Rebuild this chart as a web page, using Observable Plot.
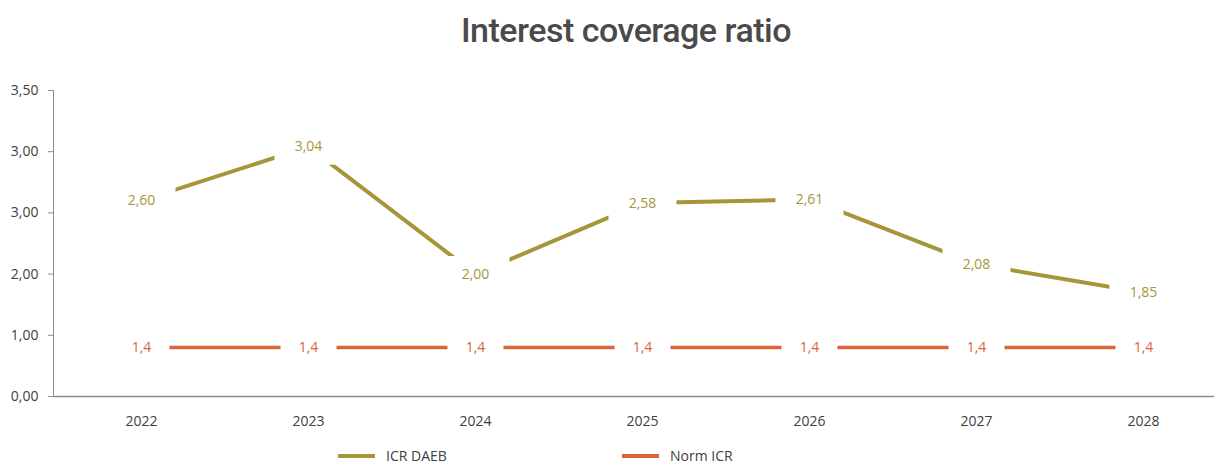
<!DOCTYPE html>
<html>
<head>
<meta charset="utf-8">
<script src="https://cdn.jsdelivr.net/npm/d3@7"></script>
<script src="https://cdn.jsdelivr.net/npm/@observablehq/plot@0.6"></script>
<style>
  html, body { margin: 0; padding: 0; background: #fff; }
  #page { position: relative; width: 1214px; height: 465px; overflow: hidden; font-family: "Open Sans", sans-serif; }
  #title { position: absolute; top: 7px; left: 38px; width: 1176px; text-align: center; font-family: Roboto, sans-serif; font-weight: 500; font-size: 34px; line-height: 46px; color: #4a4a4a; letter-spacing: -0.5px; }
  #chart { position: absolute; top: 70px; left: 0; }
  .legend-item { position: absolute; top: 446px; height: 19px; line-height: 19px; display: flex; align-items: center; font-size: 14px; color: #404040; }
  .swatch { width: 37px; height: 4px; margin-right: 11px; }
</style>
</head>
<body>
<div id="page">
  <div id="title">Interest coverage ratio</div>
  <div id="chart"></div>
  <div id="legend"></div>
</div>
<script>
const years = ["2022", "2023", "2024", "2025", "2026", "2027", "2028"];
const icrDaeb = [2.60, 3.04, 2.00, 2.58, 2.61, 2.08, 1.85];
const normIcr = [1.4, 1.4, 1.4, 1.4, 1.4, 1.4, 1.4];
const yTicks = [1, 1.5, 2, 2.5, 3, 3.5];
const yTickLabels = ["0,00", "1,00", "2,00", "3,00", "3,00", "3,50"];
const seriesNames = ["ICR DAEB", "Norm ICR"];
const seriesColors = ["#a5963a", "#d9653a"];

const icrData = years.map((year, i) => ({year, value: icrDaeb[i]}));
const normData = years.map((year, i) => ({year, value: normIcr[i]}));
const fmt2 = v => d3.format(".2f")(v).replace(".", ",");
const fmt1 = v => d3.format(".1f")(v).replace(".", ",");

// white label backgrounds (box ~36px tall) that interrupt the lines around each value label
const boxR = 36 / Math.sqrt(Math.PI);
const labelBox = (data, half) => [
  Plot.dot(data, {x: "year", y: "value", symbol: "square", r: boxR, fill: "white", stroke: "none", dx: -half}),
  Plot.dot(data, {x: "year", y: "value", symbol: "square", r: boxR, fill: "white", stroke: "none", dx: half})
];

const chart = Plot.plot({
  width: 1214,
  height: 365,
  marginLeft: 53,
  marginRight: 0,
  marginTop: 20,
  marginBottom: 39,
  style: {fontFamily: "'Open Sans', sans-serif", fontSize: "14px", color: "#404040", background: "white"},
  x: {type: "point", domain: years, range: [141, 1143], padding: 0, axis: null},
  y: {domain: [1, 3.5], axis: null},
  r: {type: "identity"},
  marks: [
    Plot.frame({anchor: "left", stroke: "#8c8c8c"}),
    Plot.ruleY([1], {stroke: "#8c8c8c", strokeWidth: 1.5}),
    Plot.axisY({ticks: yTicks, tickFormat: (d, i) => yTickLabels[i], tickSize: 5, tickPadding: 10, stroke: "#8c8c8c", fill: "#404040", fontSize: 14, label: null}),
    Plot.axisX({tickSize: 0, tickPadding: 20, fill: "#404040", fontSize: 14, label: null}),
    Plot.line(icrData, {x: "year", y: "value", stroke: seriesColors[0], strokeWidth: 4}),
    Plot.line(normData, {x: "year", y: "value", stroke: seriesColors[1], strokeWidth: 3.5}),
    ...labelBox(icrData, 16),
    ...labelBox(normData, 10),
    Plot.text(icrData, {x: "year", y: "value", text: d => fmt2(d.value), fill: seriesColors[0], fontSize: 14}),
    Plot.text(normData, {x: "year", y: "value", text: d => fmt1(d.value), fill: seriesColors[1], fontSize: 14})
  ]
});
document.getElementById("chart").appendChild(chart);

const legend = document.getElementById("legend");
const legendLeft = [338, 622];
seriesNames.forEach((name, i) => {
  const item = document.createElement("div");
  item.className = "legend-item";
  item.style.left = legendLeft[i] + "px";
  item.innerHTML = `<span class="swatch" style="background:${seriesColors[i]}"></span><span>${name}</span>`;
  legend.appendChild(item);
});
</script>
</body>
</html>
